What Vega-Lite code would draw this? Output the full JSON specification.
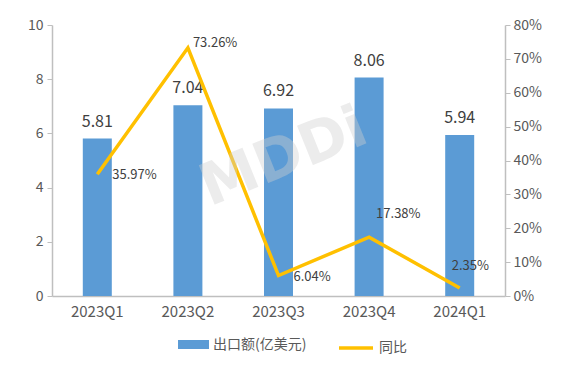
{
  "$schema": "https://vega.github.io/schema/vega-lite/v6.json",
  "width": 453,
  "height": 271,
  "autosize": {"type": "none"},
  "padding": {"left": 52, "top": 25, "right": 65, "bottom": 76},
  "background": "white",
  "config": {
    "view": {"stroke": null},
    "font": "Noto Sans CJK SC",
    "axis": {"labelFont": "Noto Sans CJK SC", "labelColor": "#595959", "domainColor": "#bfbfbf", "tickColor": "#bfbfbf", "grid": false, "title": null, "labelOverlap": false}
  },
  "data": {
    "values": [
      {"q": "2023Q1", "value": 5.81, "yoy": 0.3597},
      {"q": "2023Q2", "value": 7.04, "yoy": 0.7326},
      {"q": "2023Q3", "value": 6.92, "yoy": 0.0604},
      {"q": "2023Q4", "value": 8.06, "yoy": 0.1738},
      {"q": "2024Q1", "value": 5.94, "yoy": 0.0235}
    ]
  },
  "encoding": {
    "x": {"field": "q", "type": "nominal", "sort": null,
      "axis": {"labelAngle": 0, "labelFontSize": 15, "ticks": false, "labelPadding": 8, "domainWidth": 1.5}}
  },
  "layer": [
    {
      "layer": [
        {
          "mark": {"type": "bar", "size": 29},
          "encoding": {
            "y": {"field": "value", "type": "quantitative", "scale": {"domain": [0, 10]},
              "axis": {"values": [0, 2, 4, 6, 8, 10], "labelFontSize": 14, "tickSize": 5, "labelPadding": 4, "domainWidth": 1.5}},
            "color": {"datum": "出口额(亿美元)", "type": "nominal",
              "scale": {"range": ["#5b9bd5"]},
              "legend": {"orient": "none", "legendX": 126, "legendY": 304, "title": null,
                "symbolType": "M-1,-0.29H1V0.29H-1Z", "symbolSize": 961, "symbolStrokeWidth": 0,
                "labelFontSize": 14, "labelColor": "#595959", "labelFont": "Noto Sans CJK SC", "symbolOpacity": 1}}
          }
        },
        {
          "mark": {"type": "text", "baseline": "bottom", "dy": -9, "fontSize": 16, "color": "#404040"},
          "encoding": {
            "y": {"field": "value", "type": "quantitative"},
            "text": {"field": "value", "type": "quantitative", "format": ".2f"}
          }
        }
      ]
    },
    {
      "layer": [
        {
          "mark": {"type": "line", "strokeWidth": 3.5, "strokeJoin": "miter"},
          "encoding": {
            "y": {"field": "yoy", "type": "quantitative", "scale": {"domain": [0, 0.8]},
              "axis": {"orient": "right", "format": ".0%", "values": [0, 0.1, 0.2, 0.3, 0.4, 0.5, 0.6, 0.7, 0.8], "tickCount": 9, "labelOverlap": false, "labelFontSize": 14, "tickSize": 5, "labelPadding": 3, "domainWidth": 1.5}},
            "stroke": {"datum": "同比", "type": "nominal",
              "scale": {"range": ["#ffc000"]},
              "legend": {"orient": "none", "legendX": 285, "legendY": 304, "title": null,
                "symbolType": "stroke", "symbolSize": 1156, "symbolStrokeWidth": 3.5,
                "labelFontSize": 14, "labelColor": "#595959", "labelFont": "Noto Sans CJK SC"}}
          }
        },
        {
          "transform": [{"filter": "datum.q == '2023Q1' || datum.q == '2023Q3'"}],
          "mark": {"type": "text", "align": "left", "baseline": "middle", "dx": 15, "dy": 1, "fontSize": 13, "color": "#404040"},
          "encoding": {
            "y": {"field": "yoy", "type": "quantitative"},
            "text": {"field": "yoy", "type": "quantitative", "format": ".2%"}
          }
        },
        {
          "transform": [{"filter": "datum.q == '2023Q2'"}],
          "mark": {"type": "text", "align": "left", "baseline": "middle", "dx": 5, "dy": -5, "fontSize": 13, "color": "#404040"},
          "encoding": {
            "y": {"field": "yoy", "type": "quantitative"},
            "text": {"field": "yoy", "type": "quantitative", "format": ".2%"}
          }
        },
        {
          "transform": [{"filter": "datum.q == '2023Q4'"}],
          "mark": {"type": "text", "align": "left", "baseline": "middle", "dx": 7, "dy": -23, "fontSize": 13, "color": "#404040"},
          "encoding": {
            "y": {"field": "yoy", "type": "quantitative"},
            "text": {"field": "yoy", "type": "quantitative", "format": ".2%"}
          }
        },
        {
          "transform": [{"filter": "datum.q == '2024Q1'"}],
          "mark": {"type": "text", "align": "left", "baseline": "middle", "dx": -8, "dy": -22, "fontSize": 13, "color": "#404040"},
          "encoding": {
            "y": {"field": "yoy", "type": "quantitative"},
            "text": {"field": "yoy", "type": "quantitative", "format": ".2%"}
          }
        },
        {
          "transform": [{"filter": "datum.q == '2023Q3'"}],
          "mark": {"type": "text", "text": "MDDi", "fontSize": 58, "fontWeight": "bold", "font": "DejaVu Sans", "angle": 338, "color": "#d0d0d0", "opacity": 0.4, "dx": 6, "align": "center", "baseline": "middle"},
          "encoding": {
            "y": {"datum": 0.4, "type": "quantitative"}
          }
        }
      ]
    }
  ],
  "resolve": {"scale": {"y": "independent", "color": "independent", "stroke": "independent"}}
}
